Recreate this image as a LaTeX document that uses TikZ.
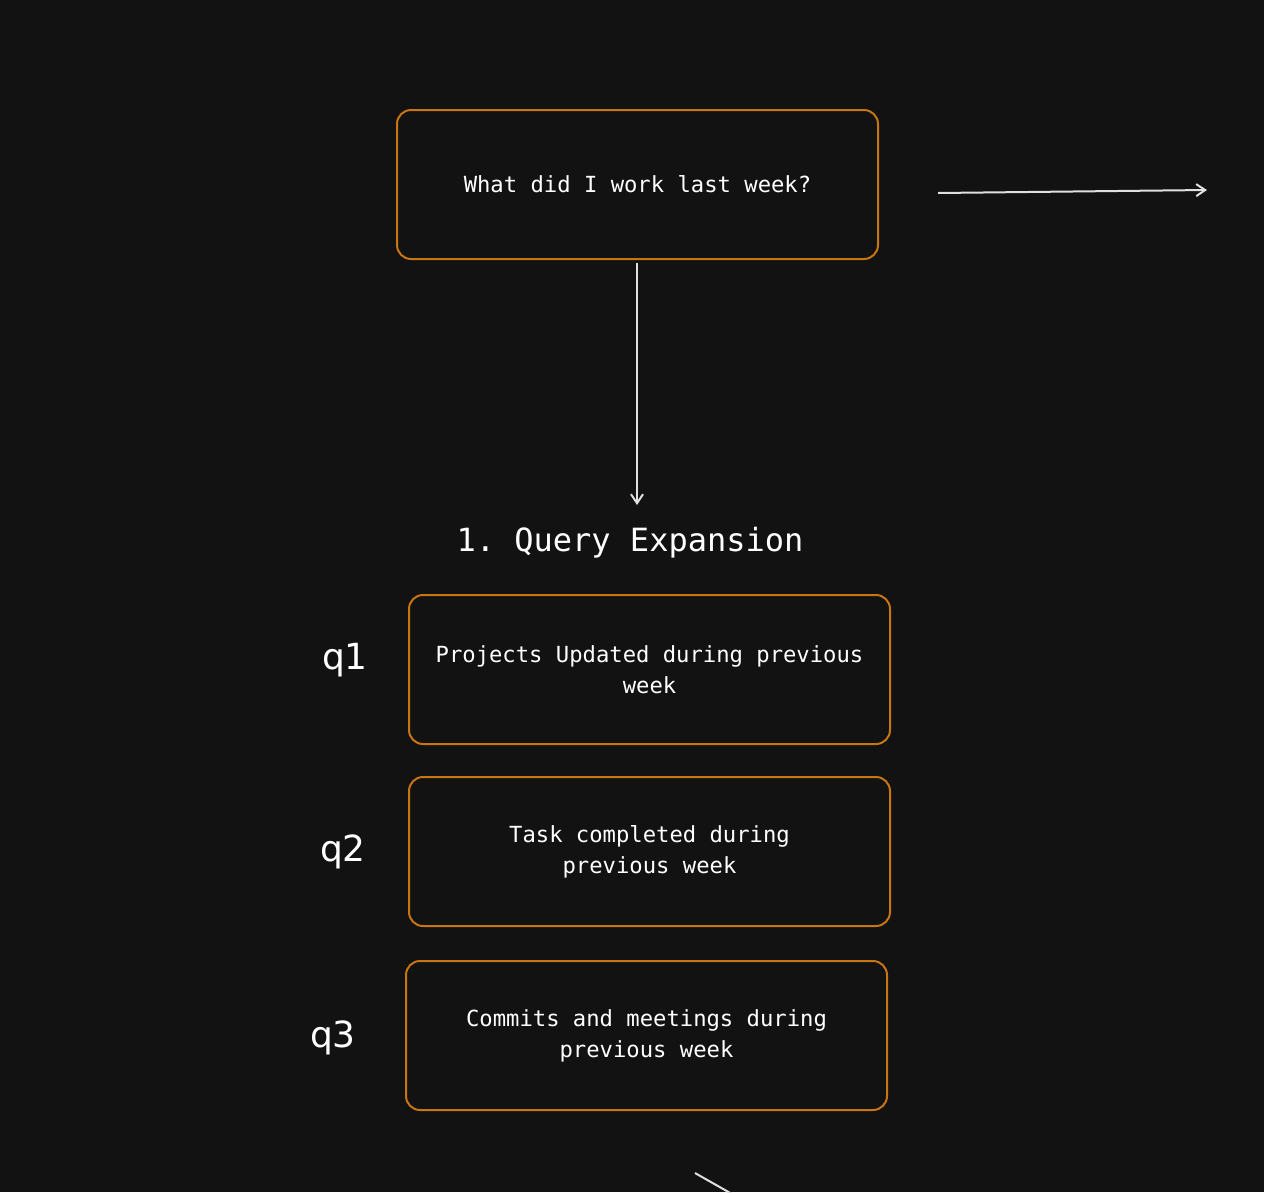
\documentclass[tikz,border=0pt]{standalone}
\usepackage{fontspec}
\setmonofont{DejaVu Sans Mono}
\setsansfont{DejaVu Sans}
\usetikzlibrary{arrows.meta}
\definecolor{bg}{HTML}{121212}
\definecolor{orng}{HTML}{C87514}
\definecolor{ln}{HTML}{E0E0E0}
\begin{document}
\begin{tikzpicture}[x=1pt,y=-1pt,
  box/.style={draw=orng,line width=2pt,rounded corners=14pt,minimum width=481pt,minimum height=149pt,text=white,font=\ttfamily\fontsize{22.2}{31}\selectfont,align=center},
  lbl/.style={text=white,font=\sffamily\fontsize{36}{40}\selectfont},
  arr/.style={draw=ln,line width=2pt,-{Straight Barb[length=9pt,width=12pt]}}]
\fill[bg] (0,0) rectangle (1264,1192);
\useasboundingbox (0,0) rectangle (1264,1192);
\node[box] (q) at (637.5,184.5) {What did I work last week?};
\coordinate (qe) at (637,505);
\draw[arr] (637,263) -- (qe);
\coordinate (a1) at (938,193); \coordinate (a2) at (1207,190);
\draw[arr] (a1) -- (a2);
\node[text=white,font=\ttfamily\fontsize{32}{36}\selectfont] (t) at (630,543) {1. Query Expansion};
\node[box] (b1) at (649.5,669.5) {Projects Updated during previous\\week};
\node[box] (b2) at (649.5,851.5) {Task completed during\\previous week};
\node[box] (b3) at (646.5,1035.5) {Commits and meetings during\\previous week};
\node[lbl] (l1) at (345,660) {q1};
\node[lbl] (l2) at (343,852) {q2};
\node[lbl] (l3) at (333,1038) {q3};
\coordinate (f1) at (695,1173); \coordinate (f2) at (732,1194);
\draw[ln,line width=2pt] (f1) -- (f2);
\end{tikzpicture}
\end{document}
